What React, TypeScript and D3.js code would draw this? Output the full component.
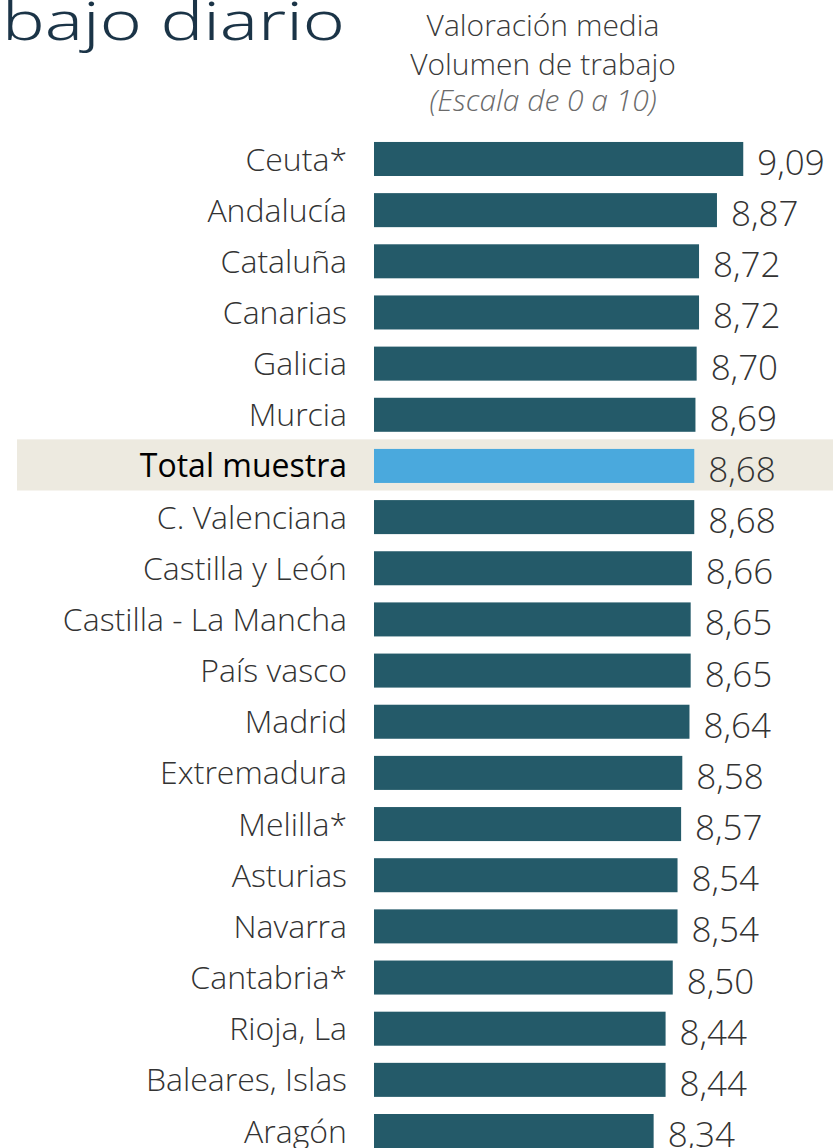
import React from "react";
import * as d3 from "d3";

const categories = [
  "Ceuta*", "Andalucía", "Cataluña", "Canarias", "Galicia", "Murcia",
  "Total muestra", "C. Valenciana", "Castilla y León", "Castilla - La Mancha",
  "País vasco", "Madrid", "Extremadura", "Melilla*", "Asturias", "Navarra",
  "Cantabria*", "Rioja, La", "Baleares, Islas", "Aragón",
];
const values = [
  9.09, 8.87, 8.72, 8.72, 8.70, 8.69, 8.68, 8.68, 8.66, 8.65,
  8.65, 8.64, 8.58, 8.57, 8.54, 8.54, 8.50, 8.44, 8.44, 8.34,
];
const highlight = "Total muestra";
const titleText = "bajo diario";
const headerLines = ["Valoración media", "Volumen de trabajo"];
const subHeader = "(Escala de 0 a 10)";

const W = 833;
const H = 1148;
const FONT = "'Open Sans', 'Noto Sans', sans-serif";

export default function App() {
  const x = d3.scaleLinear().domain([6, 10]).range([374, 374 + 4 * 119.5]);
  const y = d3.scaleBand<string>().domain(categories).range([142 - 8.6, 142 - 8.6 + 51.16 * categories.length]).paddingInner(0.335).paddingOuter(0.1675);
  const fmt = (v: number) => d3.format(".2f")(v).replace(".", ",");
  const bw = y.bandwidth();
  const step = y.step();
  return (
    <svg width={W} height={H} style={{ position: "absolute", left: 0, top: 0, background: "#fff" }}>
      <text x={2} y={40} fontFamily="'Noto Sans', 'Open Sans', sans-serif" fontWeight={350} fontSize={54} fill="#1b3447" textLength={343} lengthAdjust="spacingAndGlyphs">{titleText}</text>
      {headerLines.map((t, i) => (
        <text key={t} x={543} y={36 + i * 39} textAnchor="middle" fontFamily={FONT} fontWeight={300} fontSize={30} fill="#3a3a3a">{t}</text>
      ))}
      <text x={543} y={111} textAnchor="middle" fontFamily={FONT} fontWeight={300} fontStyle="italic" fontSize={30} fill="#6a6a6a">{subHeader}</text>
      {categories.map((c, i) => {
        const yy = y(c)!;
        const isH = c === highlight;
        return (
          <g key={c}>
            {isH && <rect x={17} y={yy + bw / 2 - step / 2 - 1} width={W - 17} height={step} fill="#edeae0" />}
            <rect x={x(6)} y={yy} width={x(values[i]) - x(6)} height={bw} fill={isH ? "#4aa9dd" : "#245a69"} />
            <text x={347} y={yy + bw / 2} dy="0.36em" textAnchor="end" fontFamily={FONT} fontWeight={isH ? 400 : 300} fontSize={32} fill={isH ? "#000" : "#333"}>{c}</text>
            <text x={x(values[i]) + 14} y={yy + bw - 1} textAnchor="start" fontFamily={FONT} fontWeight={300} fontSize={35} fill="#333">{fmt(values[i])}</text>
          </g>
        );
      })}
    </svg>
  );
}
